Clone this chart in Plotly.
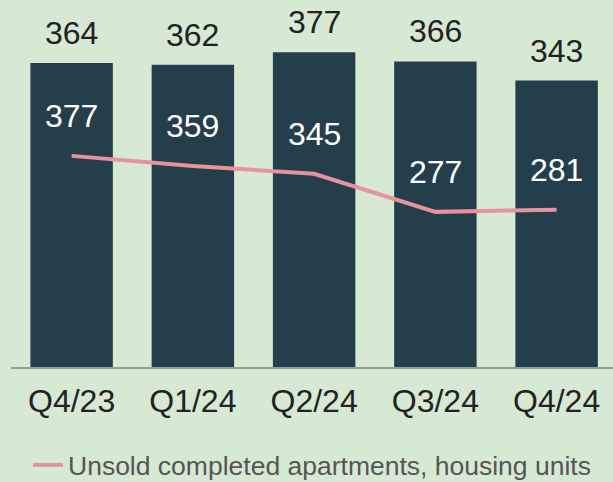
import plotly.graph_objects as go

quarters = ["Q4/23", "Q1/24", "Q2/24", "Q3/24", "Q4/24"]
bar_values = [364, 362, 377, 366, 343]
unsold_values = [377, 359, 345, 277, 281]
series_name = "Unsold completed apartments, housing units"

BG = "#d5e9d3"
BAR = "#243f4b"
LINE = "#e8919f"
FONT = "Liberation Sans, Arial, sans-serif"

fig = go.Figure()
fig.add_trace(go.Bar(x=quarters, y=bar_values, marker=dict(color=BAR, line=dict(width=0)),
                     showlegend=False, yaxis="y"))
fig.add_trace(go.Scatter(x=quarters, y=unsold_values, mode="lines", name=series_name,
                         line=dict(color=LINE, width=4), yaxis="y2"))

annotations = []
for q, v in zip(quarters, bar_values):
    annotations.append(dict(x=q, y=v, xref="x", yref="y", text=str(v), showarrow=False,
                            yanchor="bottom", yshift=10, font=dict(size=32, color="#222222", family=FONT)))
for q, v in zip(quarters, unsold_values):
    annotations.append(dict(x=q, y=v, xref="x", yref="y2", text=str(v), showarrow=False,
                            yanchor="middle", yshift=40, font=dict(size=32, color="#ffffff", family=FONT)))

fig.update_layout(
    width=613, height=482,
    margin=dict(l=11, r=0, t=20, b=115, autoexpand=False),
    paper_bgcolor=BG, plot_bgcolor=BG,
    bargap=0.32,
    font=dict(family=FONT, size=32, color="#222222"),
    xaxis=dict(range=[-0.5, 4.465], showgrid=False, showline=True, linecolor="#9a9a9a",
               linewidth=2, ticks="", ticklabelstandoff=5,
               tickfont=dict(size=32, color="#222222"), fixedrange=True),
    yaxis=dict(range=[0, 415.6], visible=False, showgrid=False, zeroline=False),
    yaxis2=dict(range=[0, 619.6], visible=False, overlaying="y", showgrid=False, zeroline=False),
    legend=dict(orientation="h", x=0.5, xanchor="center", y=-0.283, yanchor="middle",
                font=dict(size=26.5, color="#555555", family=FONT), bgcolor="rgba(0,0,0,0)"),
    annotations=annotations,
)

fig.write_html("out.html", config={"displayModeBar": False},
               post_script="document.body.style.margin='0';document.body.style.overflow='hidden';")
